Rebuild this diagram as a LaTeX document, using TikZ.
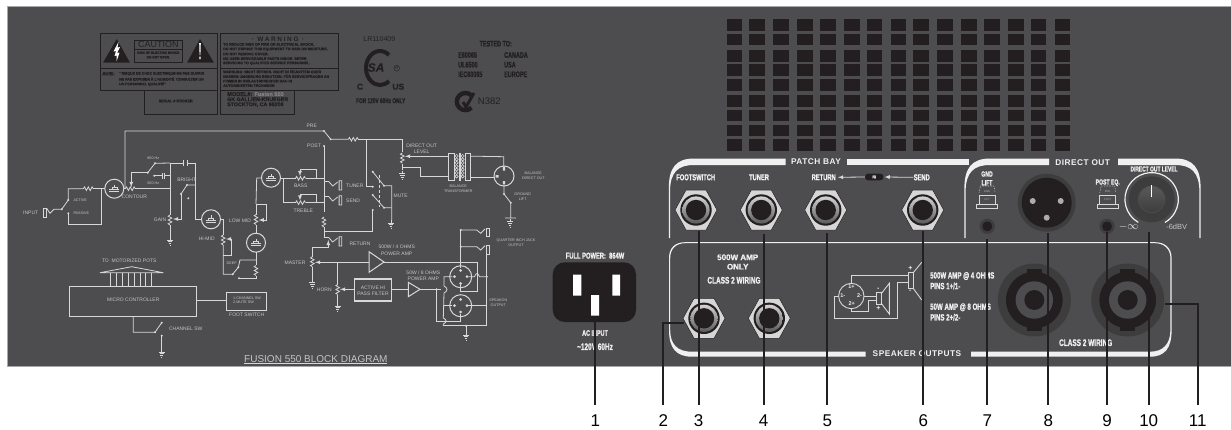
\documentclass[tikz,border=0pt]{standalone}
\usepackage{fontspec}
\setmainfont{Liberation Sans}
\newfontfamily\panelfont[FakeStretch=0.68,FakeBold=1]{Liberation Sans}
\newfontfamily\heavyfont[FakeBold=.8]{Liberation Sans}
\newfontfamily\spacedfont[LetterSpace=6]{Liberation Sans}
\definecolor{panelcol}{HTML}{4D4D4F}
\definecolor{rimcol}{HTML}{A8A8A8}
\definecolor{inkcol}{HTML}{231F20}
\definecolor{schcol}{HTML}{D8D8D8}
\definecolor{schtxt}{HTML}{C4C4C4}
\definecolor{whitecol}{HTML}{F0F0F0}
\definecolor{halocol}{HTML}{3D3D3E}
\newcommand{\pf}[1]{\panelfont\bfseries\fontsize{#1}{#1}\selectfont}
\newcommand{\hf}[1]{\heavyfont\bfseries\fontsize{#1}{#1}\selectfont}
\newcommand{\fs}[1]{\fontsize{#1}{#1}\selectfont}
\tikzset{
  sch/.style={draw=schcol,line width=.8pt},
  schlab/.style={text=schtxt,inner sep=0pt,font=\fs{5}},
  schtiny/.style={text=schtxt,inner sep=0pt,font=\fs{3.7}},
  plabel/.style={text=whitecol,inner sep=0pt,font=\pf{8.5}},
  pleft/.style={plabel,anchor=west},
  hdlabel/.style={text=whitecol,inner sep=0pt,font=\spacedfont\bfseries\fs{8.3}},
  warnbox/.style={draw=inkcol,line width=1pt},
  warntext/.style={text=inkcol,inner sep=0pt,anchor=west,font=\hf{3.6}},
  inklabel/.style={text=inkcol,inner sep=0pt,font=\pf{8.5}},
  bracket/.style={fill=whitecol,draw=none},
  thinrim/.style={draw=schcol,line width=.9pt},
  leader/.style={draw=inkcol,line width=2pt},
  numlabel/.style={text=black,inner sep=0pt,font=\fs{17}}
}
\newcommand{\resH}[2]{\draw[sch,shift={(#1,#2)}] (-5,0) -- (-3.8,-1.8) -- (-1.9,1.8) -- (0,-1.8) -- (1.9,1.8) -- (3.8,-1.8) -- (5,0);}
\newcommand{\resV}[2]{\draw[sch,shift={(#1,#2)}] (0,-5) -- (-1.8,-3.8) -- (1.8,-1.9) -- (-1.8,0) -- (1.8,1.9) -- (-1.8,3.8) -- (0,5);}
\newcommand{\tubesym}[2]{\begin{scope}[shift={(#1,#2)}]
\draw[sch,line width=1pt] (0,0) circle (9.5);
\draw[sch,line width=.6pt] (-5,1) -- (5,1) (-5,3) -- (5,3) (-2.5,1) -- (-2.5,-1.5) -- (2.5,-1.5) -- (2.5,1) (0,-1.5) -- (0,-4);
\end{scope}}
\newcommand{\gnd}[2]{\draw[sch,shift={(#1,#2)}] (0,-1) -- (0,2) (-3,2) -- (3,2) (-2.2,3.8) -- (2.2,3.8) (-1.4,5.6) -- (1.4,5.6) (-.5,7.4) -- (.5,7.4);}
\newcommand{\jacksym}[2]{\draw[sch,shift={(#1,#2)}] (-17,0) -- (-13,0) -- (-9,4.5) -- (-4,.5) (-2.6,-.7) rectangle (0,8.5);}
\newcommand{\jackhex}[2]{\begin{scope}[shift={(#1,#2)}]
\filldraw[fill=gray!32,draw=inkcol,line width=.5pt] (-21,0) -- (-10,-20) -- (10,-20) -- (21,0) -- (10,20) -- (-10,20) -- cycle;
\fill[inkcol] (0,0) circle (15.7);
\shade[top color=gray!35,bottom color=gray!70!black] (0,0) circle (13.6);
\fill[inkcol] (0,0) circle (10.2);
\end{scope}}
\newcommand{\speakon}[2]{\begin{scope}[shift={(#1,#2)}]
\fill[halocol] (0,0) circle (36.5);
\fill[inkcol] (-7.5,-31) rectangle (7.5,31);
\fill[inkcol] (0,0) circle (28.3);
\fill[panelcol] (0,0) circle (18.7);
\fill[inkcol] (0,0) circle (10);
\end{scope}}
\newcommand{\holesym}[2]{\fill[halocol] (#1,#2) circle (7.6); \fill[inkcol] (#1,#2) circle (5);}
\newcommand{\pinswitch}[5]{\node[schtiny,text=gray!60,font=\fs{2.8}] (#5a) at (#1,191.7) {#3};
\node[schtiny,text=gray!75,font=\fs{2.8}] (#5b) at (#1,199.6) {#4};
\draw[thinrim,line width=.6pt] (#1-8,195) rectangle (#1+8,204.3);
\draw[thinrim,line width=.6pt] (#1-10.5,204.3) rectangle (#1+10.5,208.3);
\draw[schcol,densely dotted,line width=.6pt] (#1-8,192.5) -- (#1-6.5,186) -- (#1+7,186) -- (#1+8,192.5);}
\begin{document}
\begin{tikzpicture}[x=1pt,y=-1pt]
\useasboundingbox (0,0) rectangle (1231,429);
\fill[white] (0,0) rectangle (1231,429);
\filldraw[fill=panelcol,draw=rimcol,line width=.8pt] (7.5,6) rectangle (1233,366);

\foreach \x in {726.7,749,773.3,797.3,820,844,866.7,890.7,913.3,937.3,961,984,1008,1030.7,1054.7}
  \foreach \y in {19.3,33.7,50,64.3,79,95,109.7,124.7,139}
    \fill[inkcol] (\x,\y) rectangle ++(15.7,11.7);

\draw[warnbox] (100,33.5) rectangle (217,68);
\draw[warnbox] (100,68) rectangle (217,90);
\draw[warnbox] (144,90) rectangle (217,114);
\draw[warnbox] (220,33.5) rectangle (338,68);
\draw[warnbox] (220,68) rectangle (338,90);
\draw[warnbox] (220,90) rectangle (294,114);
\fill[inkcol] (103,62.7) -- (130,62.7) -- (116.7,39) -- cycle;
\fill[inkcol] (187,62.7) -- (214,62.7) -- (200,39) -- cycle;
\fill[white] (118.5,42) -- (113.5,51.5) -- (116,51) -- (114.5,56) -- (116.7,55.5) -- (116.7,61) -- (119.5,52.5) -- (117,53) -- (120,47) -- (117.5,47.5) -- cycle;
\fill[white] (199.2,43) -- (200.8,43) -- (200.4,55) -- (199.6,55) -- cycle (199.3,56.5) rectangle (200.7,59);
\draw[warnbox,line width=.8pt] (134,40.3) rectangle (182.7,62.7);
\draw[warnbox,line width=.8pt] (134,40.3) rectangle (182.7,49);
\node[text=inkcol,inner sep=0pt,font=\fs{9}] (caution) at (158.3,44.7) {CAUTION};
\node[warntext,anchor=center,font=\hf{3.2}] (shock) at (158.3,52.7) {RISK OF ELECTRIC SHOCK};
\node[warntext,anchor=center,font=\hf{3.2}] (noopen) at (158.3,57.3) {DO NOT OPEN.};
\node[warntext,font=\hf{4.8}] (avis) at (102,73.7) {AVIS:};
\foreach \y/\txt [count=\i] in {73.7/{``RISQUE DE CHOC ELECTRIQUE-NE PAS OUVRIR},79/{NE PAS EXPOSER À L'HUMIDITÉ\ \ CONSULTER UN},84/{UN PERSONNEL QUALIFIÉ''}}
  \node[warntext,font=\hf{3.5}] (avis\i) at (119,\y) {\txt};
\node[warntext,anchor=center,font=\hf{3.7}] (serial) at (175.7,101) {SERIAL \# STICKER};
\node[warntext,anchor=center,font={\spacedfont\bfseries\addfontfeature{LetterSpace=25}\fs{6.5}}] (warning) at (278,39.3) {· WARNING ·};
\foreach \y/\txt [count=\i] in {44.7/{TO REDUCE RISK OF FIRE OR ELECTRICAL SHOCK,},49.3/{DO NOT EXPOSE THIS EQUIPMENT TO RAIN OR MOISTURE.},54/{DO NOT REMOVE COVER.},58.7/{NO USER-SERVICEABLE PARTS INSIDE. REFER},63.3/{SERVICING TO QUALIFIED SERVICE PERSONNEL.},71.7/{WARNUNG: NICHT ÖFFNEN. NICHT IN FEUCHTEM ODER},76.3/{NASSEM UMGEBUNG BENUTZEN. FÜR SERVICEFRAGEN AN},81/{FIRMEN IN GB/LAUTSPRECHER BAU IN},85.7/{AUTORISIERTEN TECHNIKER}}
  \node[warntext,font=\hf{3.6}] (warn\i) at (223,\y) {\txt};
\node[warntext,font=\hf{5.6}] (model) at (227,94) {MODEL\#: \textcolor{gray}{Fusion 550}};
\node[warntext,font=\hf{5.3}] (maker) at (227,99.3) {GK GALLIEN-KRUEGER};
\node[warntext,font=\hf{5.3}] (city) at (227,104.7) {STOCKTON, CA 95206};
\node[warntext,font=\hf{4.8},text=gray!60!black] (web) at (227,109.7) {www.gallien-krueger.com};

\node[text=inkcol,inner sep=0pt,font=\fs{7}] (lrnum) at (379.3,39.3) {LR110409};
\draw[inkcol,line width=4pt] (389,55) arc[start angle=-50,end angle=-310,x radius=14,y radius=17];
\node[text=inkcol,inner sep=0pt,font=\hf{12}\itshape] (csa) at (376,67.5) {SA};
\node[draw=inkcol,circle,line width=.4pt,inner sep=.6pt,text=inkcol,font=\fs{4}] (regd) at (396.7,68.3) {R};
\node[inklabel,font=\hf{8.5}] (csac) at (360,86.7) {C};
\node[inklabel,font=\hf{8.5}] (csaus) at (398.3,86.7) {US};
\node[inklabel,font=\pf{7}] (only120) at (380.7,100.7) {FOR 120V 60Hz ONLY};
\node[inklabel,font=\pf{8}] (tested) at (495.7,43.7) {TESTED TO:};
\foreach \y/\a/\b [count=\i] in {55/E60065/CANADA,64.7/UL6500/USA,74.3/IEC60065/EUROPE} {
  \node[inklabel,anchor=west,font=\pf{8}] (std\i) at (458,\y) {\a};
  \node[inklabel,anchor=west,font=\pf{8}] (reg\i) at (504,\y) {\b};
}
\draw[inkcol,line width=4.4pt] (471.5,95.5) arc[start angle=-45,end angle=-315,radius=8.6];
\draw[inkcol,line width=3pt] (463,102) -- (466,107) -- (474,93);
\node[text=inkcol,inner sep=0pt,anchor=west,font=\fs{9.5}] (n382) at (477.7,101.7) {N382};

\draw[sch] (125,188) -- (125,131) -- (324,131) -- (330.7,139.3) -- (348.3,139.3);
\resH{353.3}{139.3}
\draw[sch] (358.3,139.3) -- (402.3,139.3) -- (402.3,151.7);
\resV{402.3}{158}
\draw[sch] (402.3,164) -- (402.3,170);
\gnd{402.3}{171.7}
\draw[sch,-latex] (440,156.3) -- (405,156.3);
\draw[sch] (402.3,167.7) -- (420,167.7) -- (420,176.7) -- (448.3,176.7);
\draw[sch] (440,156.3) -- (448.3,156.3);
\draw[sch] (448.3,153.3) rectangle (454,180.7) (465,153.3) rectangle (470.7,180.7);
\foreach \y in {156,159.4,...,179} {
  \draw[sch,line width=.6pt] (456.6,\y) circle (1.6);
  \draw[sch,line width=.6pt] (462.6,\y) circle (1.6);
}
\draw[sch] (459.2,153.3) -- (459.2,180.7) (460.2,153.3) -- (460.2,180.7);
\draw[sch] (470.7,156.3) -- (480,156.3) -- (503.8,156.7) -- (503.8,166);
\draw[sch] (470.7,177.3) -- (494,177.3);
\draw[sch,line width=1pt] (504,176) circle (10);
\fill[schcol] (502.8,166.5) rectangle (505.2,170.5) (495.5,175) rectangle (498.5,177.5) (502.8,181) rectangle (505.2,184);
\draw[sch] (504,184) -- (504,194) -- (510.7,202.7) -- (510.7,218) (505,218) -- (516,218);
\gnd{510}{219.5}
\draw[sch] (324,146) -- (324,212);
\resV{324}{222}
\draw[sch] (324,227) -- (324,238.3);
\draw[sch] (366.7,139.3) -- (366.7,186.7) -- (372.7,186.7);
\draw[sch] (372.7,171.7) -- (384,185.7) -- (391.7,185.7) -- (391.7,220);
\draw[sch] (372.7,195) -- (384,207.7) -- (391.7,207.7);
\draw[sch] (372.7,210) -- (372.7,231) -- (324,231);
\gnd{391}{221}
\draw[schcol,densely dashed,line width=.8pt] (379,175) -- (379,206.7);
\jacksym{341.7}{181.5}
\jacksym{341.7}{196.5}
\draw[sch] (324,181.5) -- (325,181.5) (324,196.5) -- (325,196.5);

\tubesym{114.3}{188.7}
\draw[sch] (123.8,188.7) -- (125.3,188.7);
\resH{130.3}{188.7}
\draw[sch] (135.3,188.7) -- (170,188.7);
\draw[sch,-latex] (147.7,172.7) -- (131.3,172.7) -- (131.3,187);
\draw[sch] (147.7,172.7) -- (155,163.3) -- (170,163);
\draw[sch] (154.3,175.7) -- (162.3,175.7) (164.6,175.7) -- (170,175.7) (162.3,172.5) -- (162.3,179) (164.6,172.5) -- (164.6,179);
\draw[sch] (170,163) -- (183.3,163) (187,163) -- (195.3,163) -- (195.3,219.3) -- (201.5,219.3) (183.3,160) -- (183.3,166) (187,160) -- (187,166);
\draw[sch] (170,163) -- (170,215);
\resV{170}{220}
\draw[sch] (170,225) -- (170,238);
\gnd{170}{238}
\draw[sch,-latex] (181,194) -- (181,219) -- (173,219);
\draw[sch] (181,194) -- (187,185) -- (195.3,185);
\draw[sch] (104.8,188.7) -- (93.3,188.7);
\resH{88.3}{188.7}
\draw[sch] (83.3,188.7) -- (68.3,188.7) -- (68.3,200) -- (61.7,209.3) -- (54,209.3) -- (50,213.3) -- (46.7,208.3);
\draw[sch] (43.3,208.3) rectangle (46.7,217.3);
\draw[sch] (68.3,213.3) -- (68.3,224) -- (101.7,224) -- (101.7,188.7);

\tubesym{211}{219.3}
\draw[sch] (220.5,219.3) -- (223.2,219.3) -- (223.2,235);
\resV{223.2}{240}
\draw[sch] (223.2,245) -- (223.2,274.3) -- (232.7,274.3) -- (238.3,267.3) -- (240,260) -- (256,260);
\draw[sch,-latex] (231.7,255) -- (231.7,239) -- (226,239);
\draw[sch] (231.7,255) -- (223.2,255);
\tubesym{256}{242.7}
\draw[sch] (256,252.2) -- (256,265);
\resV{256}{270.5}
\draw[sch] (256,275.5) -- (256,278.3) -- (239,278.3);
\draw[sch] (256,233.2) -- (256,225);
\resV{256}{219.5}
\draw[sch] (256,214.5) -- (256,204) -- (266,204);
\draw[sch,-latex] (266,204) -- (266,220) -- (258.6,220);
\draw[sch] (256,204) -- (256.7,178) -- (261.5,178);
\tubesym{271}{177.7}
\draw[sch] (280.5,178.3) -- (295.5,178.3);
\resH{300.5}{178.3}
\draw[sch] (305.5,178.3) -- (324,178.3);
\draw[sch,-latex] (316.7,178.3) -- (316.7,169.3) -- (300,169.3) -- (300,176);
\draw[sch] (283.3,178.3) -- (283.3,202.7) -- (295.5,202.7);
\resH{300.5}{202.7}
\draw[sch] (305.5,202.7) -- (324,202.7);
\draw[sch,-latex] (316.7,202.7) -- (316.7,194.3) -- (300,194.3) -- (300,200.5);

\jacksym{341.7}{237.5}
\draw[sch] (324,237.5) -- (325,237.5);
\draw[sch,latex-] (328.3,240) -- (328.3,247.3) -- (312.3,247.3) -- (312.3,256.7);
\resV{312.3}{261.7}
\draw[sch] (312.3,266.7) -- (312.3,280);
\gnd{312.3}{280.7}
\draw[sch,latex-] (315,262.3) -- (369,262.3);
\draw[sch,line width=1pt] (369,251.7) -- (369,272.3) -- (384,262) -- cycle;
\draw[sch] (384,262) -- (477,262) -- (477,291.7) -- (460.7,291.7) -- (460.7,285);
\draw[sch] (337.7,262.3) -- (337.7,285);
\resV{337.7}{289.5}
\draw[sch] (337.7,294.5) -- (337.7,304);
\gnd{337.7}{304}
\draw[sch,latex-] (340,289.3) -- (354.3,289.3);
\draw[sch,line width=1.2pt] (354.3,279) rectangle (391.7,301);
\draw[sch] (391.7,289.3) -- (408.3,289.3);
\draw[sch,line width=1pt] (408.3,282.3) -- (408.3,296.7) -- (420,289.3) -- cycle;
\draw[sch] (420,289.3) -- (441,289.3);
\draw[sch,line width=1pt] (460.7,276.7) circle (11) (460.7,305.7) circle (11);
\draw[sch] (460.7,230) -- (460.7,268.3);
\draw[sch] (460.7,230) -- (476.7,230) -- (480.7,233.3) -- (485,229);
\draw[sch] (460.7,246.7) -- (476.7,246.7) -- (480.7,250) -- (485,245.7);
\draw[sch] (486.7,228.3) rectangle (489.3,236.7) (486.7,245) rectangle (489.3,254);
\draw[sch] (486.7,254) -- (486.7,325.7) -- (443.3,325.7);
\draw[sch] (468.3,276.7) -- (474.5,276.7) .. controls (476,272.5) and (478,272.5) .. (479.5,276.7) -- (486.7,276.7);
\draw[sch] (468.3,305.7) -- (486.7,305.7);
\draw[sch] (452.3,276.7) -- (444,276.7) -- (444,286) .. controls (448,288) and (448,291) .. (444,293) -- (443.3,318) .. controls (447,319.5) and (447,322.5) .. (443.3,324) -- (443.3,325.7);
\draw[sch] (452.3,305.7) -- (443.5,305.7);
\draw[sch] (436.7,289.3) -- (436.7,321) -- (460.7,321) -- (460.7,314);
\draw[sch] (466,325.7) -- (466,332);
\gnd{466}{333}
\foreach \x/\y in {460.7/270.5,460.7/283.5,454.5/276.7,467/276.7,460.7/299.5,460.7/312,454.5/305.7,467/305.7}
  \fill[schcol] (\x,\y) circle (1.5);

\draw[sch,line width=1pt] (69.3,286) rectangle (196,316);
\draw[sch] (100,272.7) -- (131.7,266.7) -- (163.3,272.7) -- cycle;
\foreach \x in {110.7,116.7,122.3,128.3,134,140,145.7,151.7}
  \draw[sch] (\x,272.7) -- (\x,286);
\draw[sch,line width=1pt] (196,300.7) -- (226,300.7);
\draw[sch,line width=1pt] (226,292) rectangle (266.7,310);
\draw[sch] (133.3,316) -- (133.3,332.3) -- (155,332.3) -- (161.7,322.7);
\draw[sch] (161.7,335.7) -- (161.7,350);
\gnd{161.7}{350}
\foreach \x/\y in {324/131,330.7/139.3,324/146,372.7/171.7,384/185.7,372.7/186.7,372.7/195,384/207.7,372.7/210,504/194,510.7/202.7,147.7/172.7,155/163.3,154.3/175.7,187/185,181/194,188.3/198.3,68.3/200,68.3/213.3,61.7/209.3,232.7/274.3,238.3/267.3,239/278.3,155/332.3,161.7/322.7,161.7/335.7,460.7/230,460.7/246.7,466/325.7,436.7/289.3,486.7/276.7}
  \fill[schcol] (\x,\y) circle (1.1);

\foreach \x/\y/\txt [count=\i] in {311.7/126/PRE,314/146/POST,421.7/146/{DIRECT OUT},421.7/152/LEVEL,400.7/196/MUTE,134.3/197/CONTOUR,30.7/212.7/INPUT,186.7/179.3/BRIGHT,160/220/GAIN,206.7/239/HI-MID,240/220.7/{LOW MID},300.7/185.7/BASS,303.3/211/TREBLE,360/243.3/RETURN,295/262.7/MASTER,324.3/290/HORN,396.7/247/{500W / 4 OHMS},396.7/253.3/{POWER AMP},423.3/273/{50W / 8 OHMS},423.3/279/{POWER AMP},373/287.3/{ACTIVE HI},373/293.3/{PASS FILTER},133.3/300/{MICRO CONTROLLER},129.3/261/{TO\ \ MOTORIZED POTS},246.7/315/{FOOT SWITCH},185.7/328.3/{CHANNEL SW}}
  \node[schlab] (sl\i) at (\x,\y) {\txt};
\node[schlab,anchor=west] (sltuner) at (346,185.5) {TUNER};
\node[schlab,anchor=west] (slsend) at (346,200.5) {SEND};
\foreach \x/\y/\txt [count=\i] in {153.3/158.7/{800 Hz},153.3/183.7/{500 Hz},231.7/263.3/DEEP,458.3/186.7/BALANCE,458.3/191.3/TRANSFORMER,533.3/173.3/BALANCE,533.3/178.3/{DIRECT OUT},522.7/194.3/GROUND,522.7/199.3/LIFT,516/240.3/{QUARTER INCH JACK},516/245.3/OUTPUT,498.3/300.7/SPEAKON,498.3/305.7/OUTPUT}
  \node[schtiny] (st\i) at (\x,\y) {\txt};
\node[schtiny,anchor=west] (stactive) at (73.3,200) {ACTIVE};
\node[schtiny,anchor=west] (stpassive) at (73.3,213.3) {PASSIVE};
\node[schtiny,anchor=west] (stchan) at (233,298.3) {1.CHANNEL SW};
\node[schtiny,anchor=west] (stmute) at (233,302.7) {2.MUTE SW};
\node[text=schtxt,inner sep=0pt,anchor=west,font=\fs{10}] (blocktitle) at (244,359) {FUSION 550 BLOCK DIAGRAM};
\draw[schcol,line width=.6pt] (blocktitle.south west) ++(0,.8) -- ++(143,0);

\fill[bracket] (668.8,238) -- (668.8,188) .. controls (668.8,168) and (676,158.5) .. (694,158.5) -- (785.7,158.5) -- (785.7,165) -- (694,165) .. controls (678,165) and (670,172) .. (670,192) -- (670,238) -- cycle;
\fill[bracket] (846.7,158.5) rectangle (969,165);
\fill[bracket] (964.4,238) -- (964.4,188) .. controls (964.4,168) and (972,158.5) .. (990,158.5) -- (1049,158.5) -- (1049,165) -- (990,165) .. controls (974,165) and (965.6,172) .. (965.6,192) -- (965.6,238) -- cycle;
\fill[bracket] (1200.6,238) -- (1200.6,188) .. controls (1200.6,168) and (1193,158.5) .. (1175,158.5) -- (1118,158.5) -- (1118,165) -- (1175,165) .. controls (1191,165) and (1199.4,172) .. (1199.4,192) -- (1199.4,238) -- cycle;
\fill[bracket] (669,258) .. controls (669,248) and (675,242.2) .. (685,242.2) -- (1155,242.2) .. controls (1165,242.2) and (1171.6,248) .. (1171.6,258) -- (1171.6,330) .. controls (1171.6,348) and (1165,356.7) .. (1150,356.7) -- (971,356.7) -- (971,351.7) -- (1150,351.7) .. controls (1163,351.7) and (1170.4,344) .. (1170.4,330) -- (1170.4,258) .. controls (1170.4,249) and (1164,243.2) .. (1155,243.2) -- (685,243.2) .. controls (676,243.2) and (670.2,249) .. (670.2,258) -- (670.2,330) .. controls (670.2,344) and (677,351.7) .. (692,351.7) -- (865.7,351.7) -- (865.7,356.7) -- (692,356.7) .. controls (676,356.7) and (669,348) .. (669,330) -- cycle;
\node[hdlabel] (patchbay) at (816,161.7) {PATCH BAY};
\node[hdlabel] (directout) at (1082.7,163) {DIRECT OUT};
\node[hdlabel] (speakerout) at (917,354) {SPEAKER OUTPUTS};

\foreach \x/\txt [count=\i] in {695.7/FOOTSWITCH,759/TUNER,823.7/RETURN,921.7/SEND}
  \node[plabel] (jl\i) at (\x,177.3) {\txt};
\node[text=whitecol,fill=inkcol,rounded corners=3pt,inner sep=0pt,minimum width=18.3pt,minimum height=6.6pt,font=\pf{4}] (fxpill) at (874.2,177) {FX};
\draw[schcol,line width=.8pt,-latex,shorten >=2pt] (fxpill.west) -- (jl3.east);
\draw[schcol,line width=.8pt,-latex,shorten >=1pt] (jl4.west) -- (fxpill.east);

\jackhex{696}{210}
\jackhex{761.3}{210}
\jackhex{825.7}{210}
\jackhex{922.7}{210}
\jackhex{704}{318.3}
\jackhex{769.3}{318.3}

\fill[inkcol,rounded corners=12pt] (552.7,262.3) rectangle (636,322);
\fill[white] (573,274.7) rectangle (581.3,295.7) (612.3,274.7) rectangle (620,295.7) (591,295) rectangle (599,315.7);
\node[plabel,font=\pf{8.5}] (fullpower) at (595,255.7) {FULL POWER:\ \ 864W};
\node[plabel,font=\pf{8}] (acinput) at (595,333) {AC INPUT};
\node[plabel,font=\pf{9.5}] (mainsv) at (595,346.7) {\textasciitilde120V 60Hz};

\node[plabel,font=\hf{8}] (amp500) at (737.7,257.3) {500W AMP};
\node[plabel,font=\hf{8}] (amponly) at (737.7,266.7) {ONLY};
\node[plabel,font=\pf{9.5}] (class2a) at (734,280.3) {CLASS 2 WIRING};
\node[pleft,font=\pf{9}] (pins1) at (930,276) {500W AMP @ 4 OHMS};
\node[pleft,font=\pf{9}] (pins2) at (930,286) {PINS 1+/1-};
\node[pleft,font=\pf{9}] (pins3) at (930,307.3) {50W AMP @ 8 OHMS};
\node[pleft,font=\pf{9}] (pins4) at (930,317.3) {PINS 2+/2-};
\node[plabel,font=\pf{9.5}] (class2b) at (1085.7,342.7) {CLASS 2 WIRING};

\draw[thinrim] (851.3,296) circle (12.7);
\node[plabel,font=\bfseries\fs{5.5}] (pina) at (851.5,286.7) {1+};
\node[plabel,font=\bfseries\fs{5.5}] (pinb) at (842.7,296) {1-};
\node[plabel,font=\bfseries\fs{5.5}] (pinc) at (859.5,296) {2-};
\node[plabel,font=\bfseries\fs{5.5}] (pind) at (851.7,303.3) {2+};
\draw[thinrim] (851.3,283.3) -- (851.3,275.7) -- (908.7,275.7);
\draw[thinrim] (838.6,296.7) -- (834,296.7) -- (834,318.3) -- (897.3,318.3) -- (897.3,282.7) -- (908.7,282.7);
\draw[thinrim] (864,296.7) -- (876.3,296.7);
\draw[thinrim] (851.7,308.7) -- (851.7,311.7) -- (868.3,311.7) -- (868.3,300) -- (876.3,300);
\draw[thinrim] (876.3,292.7) rectangle (881,304);
\draw[thinrim] (881,294) -- (889.3,283.3) -- (889.3,314) -- (881,303);
\draw[thinrim] (908.7,272.7) rectangle (913,288.3);
\draw[thinrim] (913,273) -- (921.7,262.3) (913,288) -- (921.7,300);
\node[plabel,font=\bfseries\fs{7}] (spka) at (878.3,289) {-};
\node[plabel,font=\bfseries\fs{7}] (spkb) at (878.5,308.3) {+};
\node[plabel,font=\bfseries\fs{7}] (spkc) at (910.3,268.3) {+};
\node[plabel,font=\bfseries\fs{7}] (spkd) at (910.3,291.7) {-};

\speakon{1034.3}{300}
\speakon{1127.7}{300}

\fill[halocol] (1046.7,202.7) circle (29);
\fill[inkcol] (1046.7,202.7) circle (25);
\foreach \x/\y in {1032.7/201,1060.7/201,1046.7/217.7}
  \fill[gray!65] (\x,\y) circle (3);

\node[plabel,font=\pf{7.5}] (gndtxt) at (987,174) {GND};
\node[plabel,font=\pf{7.5}] (lifttxt) at (987,182.7) {LIFT};
\pinswitch{987}{}{GND}{LIFT}{gndsw}
\holesym{987.3}{226.3}
\node[plabel,font=\pf{7.5}] (posteq) at (1107.7,182.7) {POST EQ.};
\pinswitch{1107.7}{}{PRE}{POST}{postsw}
\holesym{1107}{226.3}

\fill[halocol] (1151.7,199.3) circle (23);
\shade[top color=gray!70!black,bottom color=halocol] (1151.7,199.3) circle (13.4);
\draw[gray!60!black,line width=.8pt] (1151.7,199.3) circle (13.4);
\draw[white,line width=1.3pt] (1151.7,185) -- (1151.7,196.7);
\draw[whitecol,line width=1.2pt] (1138.3,222.4) arc[start angle=120,end angle=420,radius=26.7];
\node[plabel,font=\pf{7.2}] (levelname) at (1154,169) {DIRECT OUT LEVEL};
\node[text=whitecol,inner sep=0pt,font=\fs{11}] (minusinf) at (1128.5,226.5) {\(-\infty\)};
\node[text=gray!45,inner sep=0pt,font=\fs{7.5}] (sixdb) at (1176.7,226.7) {-6dBV};

\foreach \n/\x/\tx/\ty in {1/595.3/595.3/322,2/663.3/684/322.7,3/698.7/698.7/231,4/763.7/763.7/234.3,5/827.3/827.3/232.7,6/923.3/923.3/231,7/987.3/987.3/239,8/1048.3/1048.3/232.7,9/1107/1107/231.7,10/1148.7/1148.7/231.7,11/1197.7/1165/303.7} {
  \node[numlabel] (num\n) at (\x,421) {\n};
  \coordinate (foot\n) at (\x,405);
  \coordinate (lead\n) at (\tx,\ty);
  \draw[leader] (foot\n) |- (lead\n);
}
\end{tikzpicture}
\end{document}
